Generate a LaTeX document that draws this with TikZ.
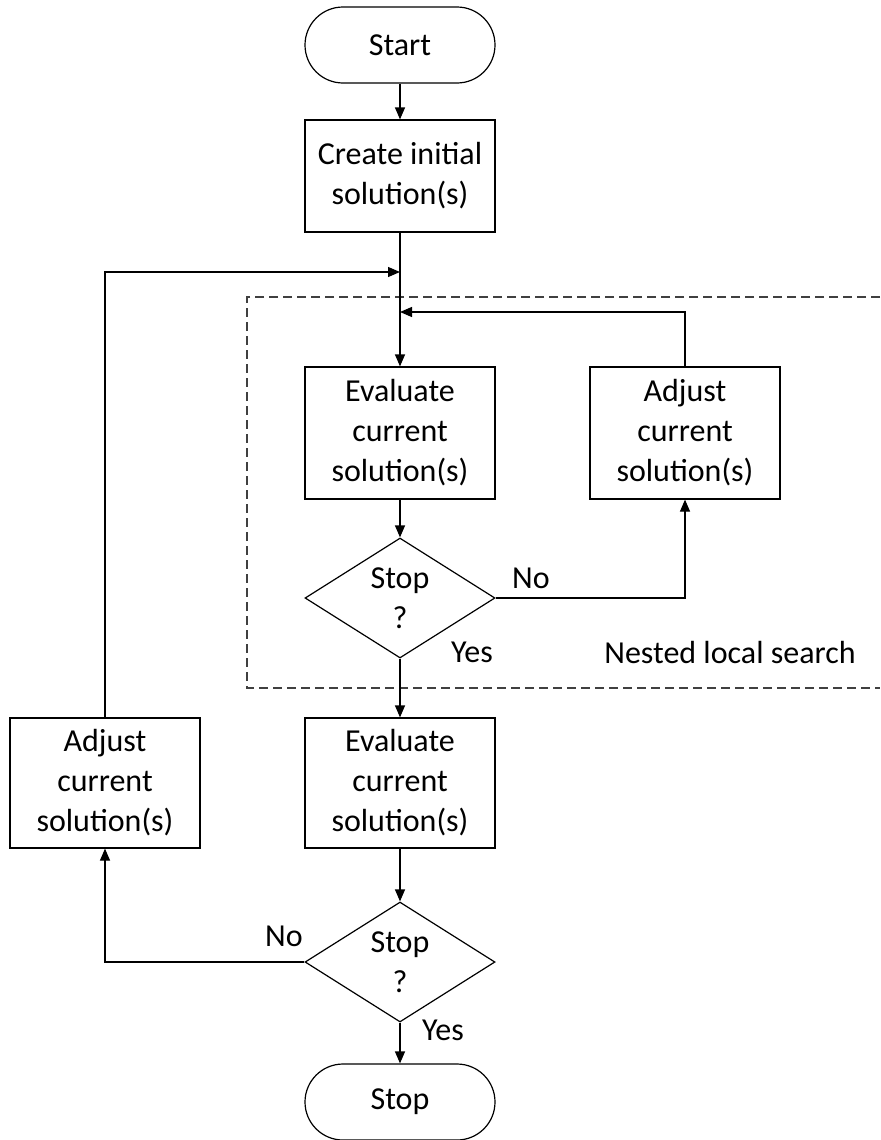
\documentclass[tikz,border=0pt]{standalone}
\usepackage{fontspec}
\setmainfont{Carlito}
\usetikzlibrary{shapes.geometric,arrows.meta}
\tikzset{
  base/.style={draw=black, line width=0.6pt, align=center, inner sep=0pt,
    font=\fontsize{16}{20}\selectfont},
  procbox/.style={base, rectangle, minimum width=95pt},
  termbox/.style={base, rectangle, rounded corners=19pt, minimum width=95pt, minimum height=38pt},
  decbox/.style={base, diamond, aspect=1.58, minimum width=95pt, minimum height=60pt},
  conn/.style={draw=black, line width=0.6pt, -{Triangle[length=6pt,width=5pt]}},
  plain/.style={draw=black, line width=0.6pt},
  lab/.style={font=\fontsize{16}{20}\selectfont, inner sep=0pt},
  grp/.style={draw=black!75, line width=0.6pt, dash pattern=on 4.5pt off 2.5pt}
}
\begin{document}
\begin{tikzpicture}[x=0.5pt,y=-0.5pt]
\useasboundingbox (0,0) rectangle (880,1140);
% group frame
\draw[grp] (880,297) -- (247,297) -- (247,688) -- (880,688);
% nodes
\node[termbox] (start) at (400,45) {Start};
\node[procbox, minimum height=56pt] (create) at (400,176) {Create initial\\solution(s)};
\node[procbox, minimum height=66pt] (eval1) at (400,433) {Evaluate\\current\\solution(s)};
\node[procbox, minimum height=66pt] (adjR) at (685,433) {Adjust\\current\\solution(s)};
\node[decbox] (dia1) at (400,598) {Stop\\?};
\node[procbox, minimum height=65pt] (eval2) at (400,783) {Evaluate\\current\\solution(s)};
\node[procbox, minimum height=65pt] (adjL) at (105,783) {Adjust\\current\\solution(s)};
\node[decbox] (dia2) at (400,962) {Stop\\?};
\node[termbox] (stop) at (400,1102) {Stop};
% junction points
\coordinate (j1) at (400,272);
\coordinate (j2) at (400,312);
% connectors
\draw[conn] (start) -- (create);
\draw[conn] (create) -- (eval1);
\draw[conn] (adjL.north) |- (j1);
\draw[conn] (adjR.north) |- (j2);
\draw[conn] (eval1) -- (dia1);
\draw[conn] (dia1.east) -| (adjR.south);
\draw[conn] (dia1) -- (eval2);
\draw[conn] (eval2) -- (dia2);
\draw[conn] (dia2.west) -| (adjL.south);
\draw[conn] (dia2) -- (stop);
% labels
\node[lab] (no1) at (531,578) {No};
\node[lab] (yes1) at (472,652) {Yes};
\node[lab] (nls) at (730,652) {Nested local search};
\node[lab] (no2) at (284,936) {No};
\node[lab] (yes2) at (443,1030) {Yes};
\end{tikzpicture}
\end{document}
